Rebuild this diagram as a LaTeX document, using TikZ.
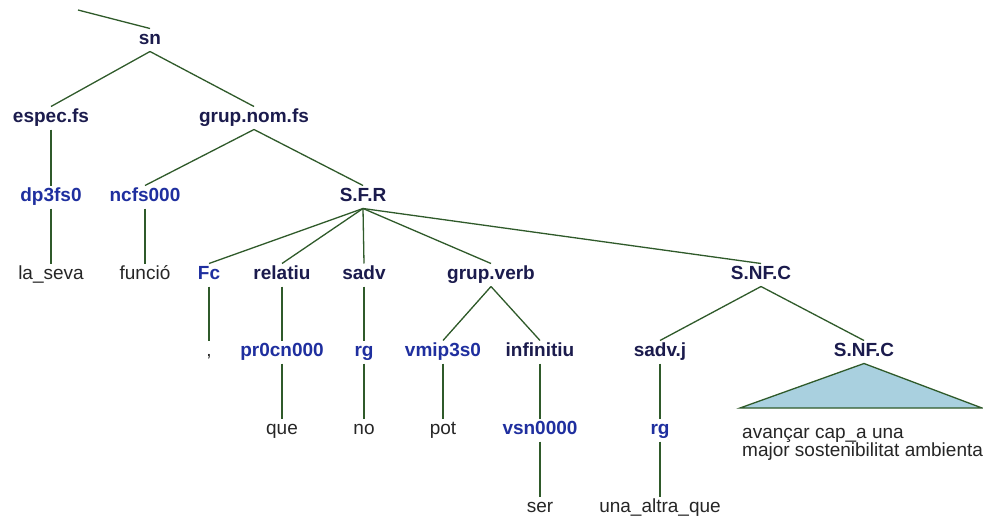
\documentclass[tikz,border=0pt]{standalone}
\usepackage{fontspec}
\setmainfont{Liberation Sans}
\usetikzlibrary{positioning}
\definecolor{catnavy}{HTML}{1B1B4D}
\definecolor{tagblue}{HTML}{1F2F9F}
\definecolor{wordgray}{HTML}{262626}
\definecolor{brgreen}{HTML}{2F5A2A}
\definecolor{trifill}{HTML}{A9D0DF}

\begin{document}
\begin{tikzpicture}[
  x=1pt, y=-1pt,
  lab/.style={inner sep=0pt, outer sep=3pt, text height=13pt, text depth=4pt,
    font=\fontsize{19}{19}\selectfont},
  cat/.style={lab, text=catnavy, font=\fontsize{19}{19}\selectfont\bfseries},
  tag/.style={lab, text=tagblue, font=\fontsize{19}{19}\selectfont\bfseries},
  word/.style={lab, text=wordgray},
  phrase/.style={inner sep=0pt, text=wordgray, align=left,
    font=\fontsize{19}{18}\selectfont},
  branch/.style={draw=brgreen, line width=1.3pt},
]

% Frame
\useasboundingbox[fill=white] (0,0) rectangle (983,519);

% Row 1 and 2
\coordinate (root) at (78,10);
\node[cat] (sn) at (150,40) {sn};
\node[cat] (espec) at (51,118) {espec.fs};
\node[cat] (grupnom) at (254,118) {grup.nom.fs};

% Row 3
\node[tag] (dp3fs0) at (51,197) {dp3fs0};
\node[tag] (ncfs) at (145,197) {ncfs000};
\node[cat] (sfr) at (363,197) {S.F.R};

% Row 4
\node[word] (laseva) at (51,275) {la\_seva};
\node[word] (funcio) at (145,275) {funció};
\node[tag] (fc) at (209,275) {Fc};
\node[cat] (relatiu) at (282,275) {relatiu};
\node[cat] (sadv) at (364,275) {sadv};
\node[cat] (grupverb) at (491,275) {grup.verb};
\node[cat] (snfc) at (761,275) {S.NF.C};

% Row 5
\node[word] (comma) at (209,352) {,};
\node[tag] (pr0cn) at (282,352) {pr0cn000};
\node[tag] (rgA) at (364,352) {rg};
\node[tag] (vmip) at (443,352) {vmip3s0};
\node[cat] (infin) at (540,352) {infinitiu};
\node[cat] (sadvj) at (660,352) {sadv.j};
\node[cat] (snfcb) at (864,352) {S.NF.C};

% Row 6 and 7
\node[word] (que) at (282,430) {que};
\node[word] (no) at (364,430) {no};
\node[word] (pot) at (443,430) {pot};
\node[tag] (vsn) at (540,430) {vsn0000};
\node[tag] (rgB) at (660,430) {rg};
\node[word] (ser) at (540,508) {ser};
\node[word] (altra) at (660,508) {una\_altra\_que};

% Collapsed phrase
\coordinate (trl) at (740,408);
\coordinate (trr) at (982,408);
\draw[branch, fill=trifill] (snfcb.south) -- (trl) -- (trr) -- cycle;
\node[phrase, anchor=base west] (words) at (742,456)
  {avançar cap\_a una\\major sostenibilitat ambienta};

\draw[branch] (root) -- (sn.north);
\draw[branch] (sn.south) -- (espec.north);
\draw[branch] (sn.south) -- (grupnom.north);
\draw[branch] (espec.south) -- (dp3fs0.north);
\draw[branch] (grupnom.south) -- (ncfs.north);
\draw[branch] (grupnom.south) -- (sfr.north);
\draw[branch] (dp3fs0.south) -- (laseva.north);
\draw[branch] (ncfs.south) -- (funcio.north);
\draw[branch] (sfr.south) -- (fc.north);
\draw[branch] (sfr.south) -- (relatiu.north);
\draw[branch] (sfr.south) -- (sadv.north);
\draw[branch] (sfr.south) -- (grupverb.north);
\draw[branch] (sfr.south) -- (snfc.north);
\draw[branch] (fc.south) -- (comma.north);
\draw[branch] (relatiu.south) -- (pr0cn.north);
\draw[branch] (sadv.south) -- (rgA.north);
\draw[branch] (grupverb.south) -- (vmip.north);
\draw[branch] (grupverb.south) -- (infin.north);
\draw[branch] (snfc.south) -- (sadvj.north);
\draw[branch] (snfc.south) -- (snfcb.north);
\draw[branch] (pr0cn.south) -- (que.north);
\draw[branch] (rgA.south) -- (no.north);
\draw[branch] (vmip.south) -- (pot.north);
\draw[branch] (infin.south) -- (vsn.north);
\draw[branch] (sadvj.south) -- (rgB.north);
\draw[branch] (vsn.south) -- (ser.north);
\draw[branch] (rgB.south) -- (altra.north);
\end{tikzpicture}
\end{document}
